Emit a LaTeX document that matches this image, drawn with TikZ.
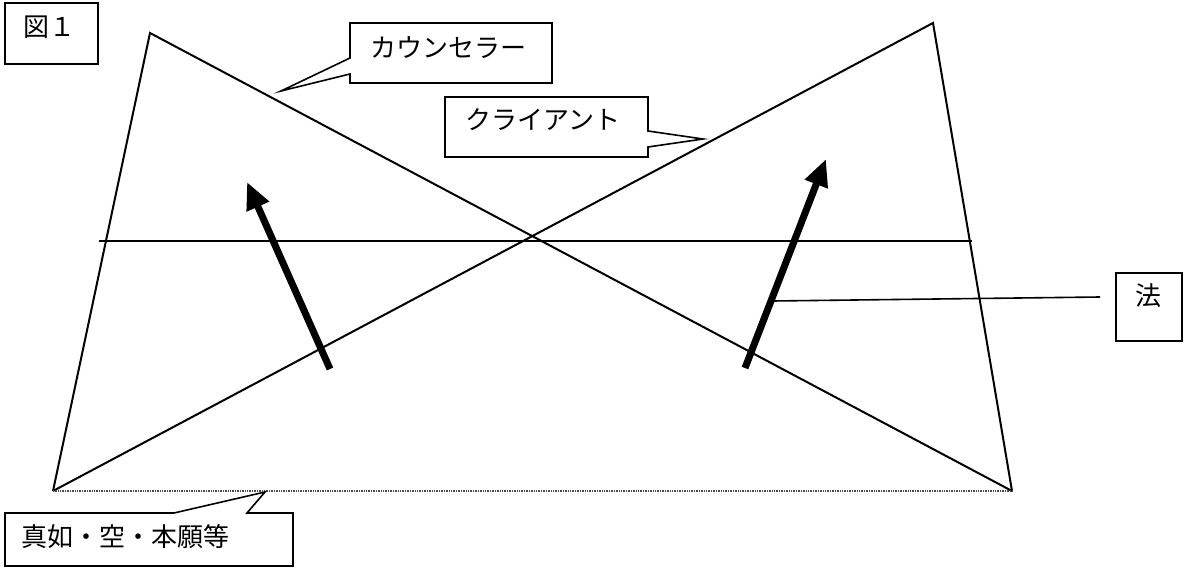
\documentclass[tikz,border=0pt]{standalone}
\usepackage{fontspec}
\newfontfamily\jp{Noto Sans CJK JP}
\usetikzlibrary{arrows.meta}
\begin{document}
\begin{tikzpicture}[x=1pt,y=-1pt,
  edge/.style={line width=2pt, line join=miter},
  boxline/.style={line width=1.6pt, line join=miter},
  lbl/.style={font=\jp\fontsize{26}{26}\selectfont, inner sep=0pt, anchor=west},
  bigarrow/.style={line width=7pt, -{Triangle[length=27pt,width=23pt]}}]
\useasboundingbox (0,0) rectangle (1187,569);
% vertices
\coordinate (LT) at (150,33);
\coordinate (RT) at (933,23);
\coordinate (BL) at (53,491);
\coordinate (BR) at (1012,491);
\coordinate (HL) at (99,241);
\coordinate (HR) at (972,241);
% triangles
\draw[edge] (BL) -- (LT) -- (BR);
\draw[edge] (BL) -- (RT) -- (BR);
\draw[line width=1.6pt] (HL) -- (HR);
\draw[black!70, line width=1.4pt, dash pattern=on 1pt off 0.7pt] (BL) -- (BR);
% arrows
\coordinate (A1s) at (330,369);
\coordinate (A1e) at (247,182);
\coordinate (A2s) at (745,368);
\coordinate (A2e) at (826,159);
\draw[bigarrow] (A1s) -- (A1e);
\draw[bigarrow] (A2s) -- (A2e);
% figure label
\draw[boxline] (5,3) rectangle (98,64);
\node[lbl] (fig) at (23,27) {図１};
% counselor callout
\coordinate (cTip) at (281,91);
\draw[boxline] (350,23) -- (552,23) -- (552,83) -- (350,83) -- (350,74) -- (cTip) -- (350,58) -- cycle;
\node[lbl] (couns) at (370,48) {カウンセラー};
% client callout
\coordinate (clTip) at (703,139);
\draw[boxline] (445,97) -- (648,97) -- (648,131) -- (clTip) -- (648,147) -- (648,157) -- (445,157) -- cycle;
\node[lbl] (client) at (465,120) {クライアント};
% bottom callout
\coordinate (bTip) at (265,492);
\draw[boxline] (5,513) -- (174,513) -- (bTip) -- (247,513) -- (293,513) -- (293,566) -- (5,566) -- cycle;
\node[lbl] (base) at (21,537) {真如・空・本願等};
% law box
\draw[boxline] (1116,273) rectangle (1182,341);
\node[lbl, anchor=center] (law) at (1148,296) {法};
\coordinate (lawS) at (773,301);
\coordinate (lawE) at (1100,297);
\draw[line width=1.6pt] (lawS) -- (lawE);
\end{tikzpicture}
\end{document}
